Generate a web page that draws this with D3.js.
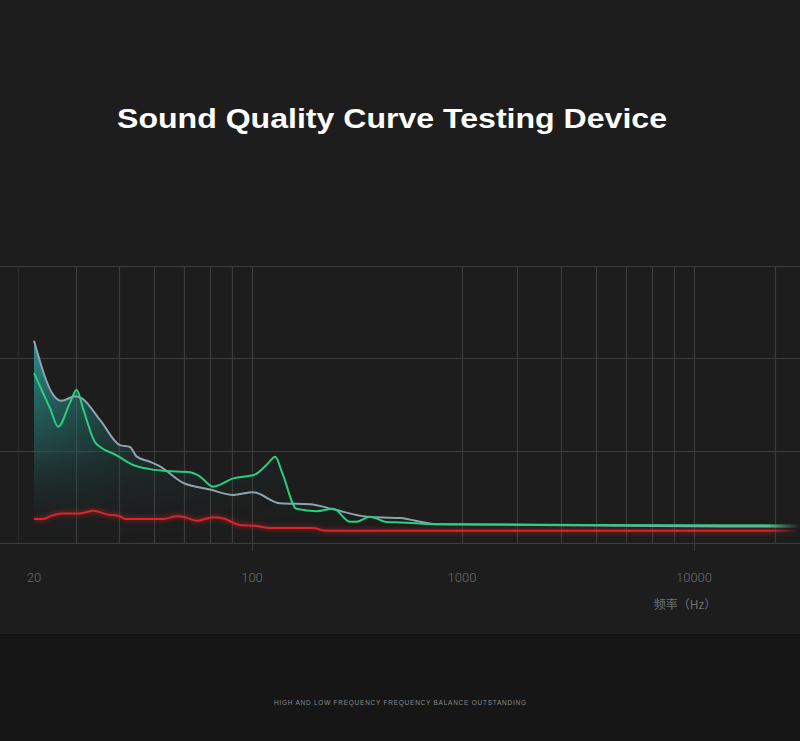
<!DOCTYPE html>
<html>
<head>
<meta charset="utf-8">
<script src="https://cdn.jsdelivr.net/npm/d3@7"></script>
<style>
  html, body { margin: 0; padding: 0; background: #1d1d1d; }
  svg { display: block; }
</style>
</head>
<body>
<svg id="chart" width="800" height="741"></svg>
<script>
// ---------------- DATA ----------------
const titleText = "Sound Quality Curve Testing Device";
const footerText = "HIGH AND LOW FREQUENCY FREQUENCY BALANCE OUTSTANDING";
const axisTitle = "频率（Hz）";

const xTickLabels = [20, 100, 1000, 10000];
const xTickMarks = [100, 10000];
const xGridFreqs = [17.8, 27.3, 37.5, 48.5, 60.5, 73.3, 86.3, 100, 1000, 1730, 2670, 3780, 5090, 6590, 8200, 10000, 22000];
const yGridLevels = [0, 10, 20, 30];

const grayFreq  = [20, 23.1, 24.5, 27.1, 28.4, 32.6, 37.7, 40.6, 42.7, 47.1, 50.7, 59.5, 73.3, 87.1, 101, 136, 189, 244, 352, 507, 758, 13800, 28000];
const grayLevel = [21.9, 16.0, 15.4, 15.9, 15.7, 13.3, 10.6, 10.4, 9.35, 8.8, 8.3, 6.6, 5.8, 5.2, 5.5, 4.3, 4.2, 3.65, 2.85, 2.7, 2.03, 1.8, 1.75];

const greenFreq  = [20, 22.5, 23.9, 26.1, 27.4, 28.7, 31.4, 32.6, 36.8, 41.6, 47.1, 53.3, 63.3, 68.1, 75.1, 87.1, 103, 119, 129, 140, 163, 203, 244, 293, 315, 365, 438, 507, 758, 13800, 28000];
const greenLevel = [18.4, 14.6, 12.6, 15.2, 16.6, 14.6, 10.9, 10.4, 9.5, 8.45, 8.0, 7.8, 7.65, 7.2, 6.1, 7.0, 7.4, 8.6, 9.35, 7.45, 3.7, 3.45, 3.7, 2.3, 2.3, 2.85, 2.27, 2.23, 2.03, 1.92, 1.9];

const redFreq  = [20, 21.4, 22.8, 24.5, 28.1, 31.0, 34.2, 37.7, 39.2, 52.0, 57.4, 61.0, 66.5, 75.1, 80.9, 91.5, 105, 122, 196, 223, 507, 28000];
const redLevel = [2.6, 2.6, 2.96, 3.2, 3.2, 3.5, 3.1, 2.9, 2.6, 2.6, 2.9, 2.8, 2.4, 2.8, 2.65, 1.95, 1.85, 1.62, 1.62, 1.33, 1.33, 1.33];

// ---------------- CHART ----------------
const W = 800, H = 741;
const svg = d3.select("#chart");

const x = d3.scaleLog()
  .domain([20, 100, 1000, 10000, 28000])
  .range([34, 252, 462, 694, 800]);
const y = d3.scaleLinear().domain([0, 30]).range([543, 266]);

const defs = svg.append("defs");

// vertical teal gradient for the fill
const vg = defs.append("linearGradient").attr("id", "vgrad")
  .attr("gradientUnits", "userSpaceOnUse")
  .attr("x1", 0).attr("y1", 340).attr("x2", 0).attr("y2", 540);
vg.append("stop").attr("offset", "0%").attr("stop-color", "#2fa39a").attr("stop-opacity", 0.9);
vg.append("stop").attr("offset", "50%").attr("stop-color", "#24716d").attr("stop-opacity", 0.55);
vg.append("stop").attr("offset", "100%").attr("stop-color", "#1d2b2b").attr("stop-opacity", 0.0);

// horizontal fade mask
const hg = defs.append("linearGradient").attr("id", "hgrad")
  .attr("gradientUnits", "userSpaceOnUse")
  .attr("x1", 34).attr("y1", 0).attr("x2", 460).attr("y2", 0);
hg.append("stop").attr("offset", "0%").attr("stop-color", "#fff");
hg.append("stop").attr("offset", "20%").attr("stop-color", "#888");
hg.append("stop").attr("offset", "55%").attr("stop-color", "#333");
hg.append("stop").attr("offset", "100%").attr("stop-color", "#000");
defs.append("mask").attr("id", "hmask")
  .attr("maskUnits", "userSpaceOnUse")
  .attr("x", 0).attr("y", 0).attr("width", W).attr("height", H)
  .append("rect").attr("x", 0).attr("y", 0).attr("width", W).attr("height", H)
  .attr("fill", "url(#hgrad)");

// red glow
const glow = defs.append("filter").attr("id", "glow")
  .attr("x", "-10%").attr("y", "-200%").attr("width", "120%").attr("height", "500%");
glow.append("feGaussianBlur").attr("stdDeviation", 2.5);

// fade at right end of lines
const rg = defs.append("linearGradient").attr("id", "rfade")
  .attr("gradientUnits", "userSpaceOnUse")
  .attr("x1", 0).attr("y1", 0).attr("x2", W).attr("y2", 0);
rg.append("stop").attr("offset", "96%").attr("stop-color", "#fff");
rg.append("stop").attr("offset", "100%").attr("stop-color", "#000");
defs.append("mask").attr("id", "rmask")
  .attr("maskUnits", "userSpaceOnUse")
  .attr("x", 0).attr("y", 0).attr("width", W).attr("height", H)
  .append("rect").attr("x", 0).attr("y", 0).attr("width", W).attr("height", H)
  .attr("fill", "url(#rfade)");

// backgrounds
svg.append("rect").attr("x", 0).attr("y", 0).attr("width", W).attr("height", 634).attr("fill", "#1d1d1d");
svg.append("rect").attr("x", 0).attr("y", 634).attr("width", W).attr("height", H - 634).attr("fill", "#161616");
svg.append("line").attr("x1", 0).attr("x2", W).attr("y1", 634.5).attr("y2", 634.5).attr("stroke", "#111").attr("stroke-width", 1);

// title
svg.append("text")
  .attr("x", 392).attr("y", 128)
  .attr("text-anchor", "middle")
  .attr("font-family", "'Liberation Sans', Arial, sans-serif")
  .attr("font-weight", "bold")
  .attr("font-size", 28)
  .attr("fill", "#ffffff")
  .attr("textLength", 550)
  .attr("lengthAdjust", "spacingAndGlyphs")
  .text(titleText);

// grid
const grid = svg.append("g");
grid.selectAll("line.h").data(yGridLevels).join("line")
  .attr("class", "h")
  .attr("x1", 0).attr("x2", W)
  .attr("y1", d => Math.round(y(d)) + 0.5).attr("y2", d => Math.round(y(d)) + 0.5)
  .attr("stroke", "#3d3d3d").attr("stroke-width", 1.2);
grid.selectAll("line.v").data(xGridFreqs).join("line")
  .attr("class", "v")
  .attr("x1", d => Math.round(x(d)) + 0.5).attr("x2", d => Math.round(x(d)) + 0.5)
  .attr("y1", y(30)).attr("y2", y(0))
  .attr("stroke", (d, i) => i === 0 ? "#2a2a2a" : "#3b3b3b").attr("stroke-width", 1.2);
grid.selectAll("line.t").data(xTickMarks).join("line")
  .attr("class", "t")
  .attr("x1", d => Math.round(x(d)) + 0.5).attr("x2", d => Math.round(x(d)) + 0.5)
  .attr("y1", y(0)).attr("y2", y(0) + 8)
  .attr("stroke", "#3b3b3b").attr("stroke-width", 1.2);

// series
const mk = (f, v) => f.map((d, i) => ({ f: d, v: v[i] }));
const gray = mk(grayFreq, grayLevel);
const green = mk(greenFreq, greenLevel);
const red = mk(redFreq, redLevel);

const line = d3.line().x(d => x(d.f)).y(d => y(d.v)).curve(d3.curveMonotoneX);
const area = d3.area().x(d => x(d.f)).y0(y(0)).y1(d => y(d.v)).curve(d3.curveMonotoneX);

// fill under the upper envelope (union of the two areas)
const clip = defs.append("clipPath").attr("id", "areaClip");
clip.append("path").attr("d", area(gray));
clip.append("path").attr("d", area(green));

svg.append("g").attr("mask", "url(#hmask)")
  .append("g").attr("clip-path", "url(#areaClip)")
  .append("rect").attr("x", 0).attr("y", 260).attr("width", W).attr("height", 290)
  .attr("fill", "url(#vgrad)");

const lines = svg.append("g").attr("mask", "url(#rmask)");
lines.append("path").attr("d", line(red))
  .attr("fill", "none").attr("stroke", "#e0262a").attr("stroke-width", 4)
  .attr("opacity", 0.45).attr("filter", "url(#glow)");
lines.append("path").attr("d", line(red))
  .attr("fill", "none").attr("stroke", "#d8262b").attr("stroke-width", 2);
lines.append("path").attr("d", line(gray))
  .attr("fill", "none").attr("stroke", "#8ea3b0").attr("stroke-width", 2);
lines.append("path").attr("d", line(green))
  .attr("fill", "none").attr("stroke", "#27cf7e").attr("stroke-width", 2);

// axis labels
svg.append("g").selectAll("text").data(xTickLabels).join("text")
  .attr("x", d => x(d)).attr("y", 582)
  .attr("text-anchor", "middle")
  .attr("font-family", "Roboto, 'Liberation Sans', sans-serif")
  .attr("font-weight", 300)
  .attr("font-size", 13)
  .attr("fill", "#6c6c6c")
  .text(d => d);

svg.append("text")
  .attr("x", 685).attr("y", 609)
  .attr("text-anchor", "middle")
  .attr("font-family", "'Noto Sans CJK SC', 'Noto Sans', sans-serif")
  .attr("font-size", 12)
  .attr("fill", "#707070")
  .text(axisTitle);

// footer
svg.append("text")
  .attr("x", 400).attr("y", 704.5)
  .attr("text-anchor", "middle")
  .attr("font-family", "'Liberation Sans', Arial, sans-serif")
  .attr("font-size", 6.5)
  .attr("fill", "#8a8a8a")
  .attr("textLength", 252)
  .attr("lengthAdjust", "spacing")
  .text(footerText);
</script>
</body>
</html>
